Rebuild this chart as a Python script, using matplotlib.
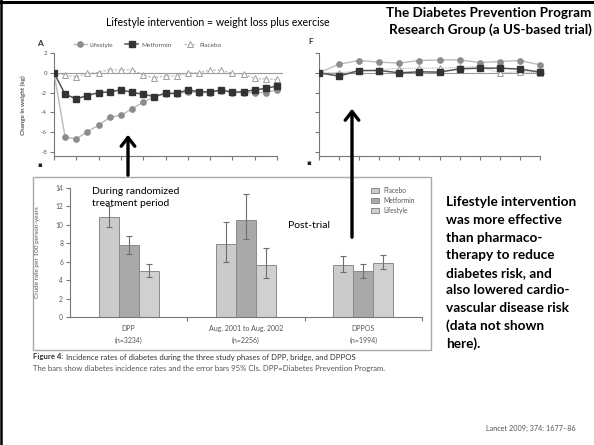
import matplotlib
matplotlib.use("Agg")
import matplotlib.pyplot as plt
from matplotlib.patches import Rectangle, FancyArrowPatch
from matplotlib.lines import Line2D

W, H = 594, 445
plt.rcParams['font.family'] = ['Lato', 'DejaVu Sans']
plt.rcParams['axes.unicode_minus'] = False

# ---- Panel A: change in weight (kg) over time since randomisation (years) ----
years_a = [0, 0.5, 1, 1.5, 2, 2.5, 3, 3.5, 4, 4.5, 5, 5.5, 6, 6.5, 7, 7.5, 8, 8.5, 9, 9.5, 10]
lifestyle_a = [0, -6.5, -6.67, -5.93, -5.3, -4.5, -4.3, -3.63, -2.97, -2.4, -2.1,
               -2.1, -1.9, -2.0, -2.0, -1.8, -2.0, -2.0, -2.0, -2.0, -1.7]
metformin_a = [0, -2.17, -2.63, -2.3, -2.0, -1.93, -1.73, -1.97, -2.17, -2.4, -2.07,
               -2.07, -1.73, -1.9, -1.93, -1.73, -1.97, -1.9, -1.73, -1.57, -1.33]
placebo_a = [0, -0.23, -0.4, -0.07, 0.03, 0.33, 0.27, 0.33, -0.23, -0.5, -0.3,
             -0.33, 0, 0, 0.27, 0.27, -0.07, -0.13, -0.57, -0.63, -0.67]
yticks_a = [-8, -6, -4, -2, 0, 2]
yticklabels_a = ['-8', '-6', '-4', '-2', '0', '2']

# ---- Panel F ----
years_f = [0, 1, 2, 3, 4, 5, 6, 7, 8, 9, 10, 11]
lifestyle_f = [0, 0.88, 1.24, 1.08, 0.98, 1.24, 1.3, 1.3, 1.04, 1.14, 1.24, 0.81]
metformin_f = [0, -0.33, 0.23, 0.23, 0.0, 0.1, 0.07, 0.4, 0.47, 0.47, 0.37, 0.07]
placebo_f = [0, 0.0, 0.17, 0.33, 0.43, 0.47, 0.47, 0.54, 0.64, -0.03, 0.13, -0.03]

# ---- Diabetes incidence by study phase (per 100 person-years, 95% CI) ----
phases = ['DPP\n(n=3234)', 'Aug. 2001 to Aug. 2002\n(n=2256)', 'DPPOS\n(n=1994)']
placebo_rate = [10.8, 7.9, 5.6]
placebo_lo = [9.8, 6.0, 4.85]
placebo_hi = [12.0, 10.3, 6.6]
metformin_rate = [7.8, 10.5, 5.0]
metformin_lo = [6.8, 8.5, 4.2]
metformin_hi = [8.8, 13.3, 5.8]
lifestyle_rate = [5.0, 5.6, 5.9]
lifestyle_lo = [4.3, 4.2, 5.2]
lifestyle_hi = [5.8, 7.5, 6.7]
rate_ticks = [0, 2, 4, 6, 8, 10, 12, 14]


def fx(px):
    return px / W


def fy(py):
    return 1 - py / H


def box(x0, y0, x1, y1):
    return [x0 / W, 1 - y1 / H, (x1 - x0) / W, (y1 - y0) / H]


fig = plt.figure(figsize=(W / 100, H / 100), dpi=100)
fig.patch.set_facecolor('white')

GRID = '#777777'
TXT = '#555555'


def style_axes(ax):
    for s in ('top', 'right'):
        ax.spines[s].set_visible(False)
    for s in ('left', 'bottom'):
        ax.spines[s].set_color(GRID)
        ax.spines[s].set_linewidth(0.8)
    ax.tick_params(colors=GRID, length=3, width=0.8, labelsize=4.5, labelcolor=TXT, pad=2)
    ax.set_facecolor('none')


def draw_series(ax, x, life, met, plac):
    ax.plot(x, plac, ls=(0, (2, 1.5)), color='#b0b0b0', lw=0.8, marker='^', ms=4.0,
            mfc='white', mec='#a0a0a0', mew=0.7, zorder=3, label='Placebo')
    ax.plot(x, life, color='#bbbbbb', lw=1.0, marker='o', ms=3.8,
            mfc='#8c8c8c', mec='#8c8c8c', zorder=4, label='Lifestyle')
    ax.plot(x, met, color='#555555', lw=1.1, marker='s', ms=4.0,
            mfc='#333333', mec='#333333', zorder=5, label='Metformin')


# Panel A
axA = fig.add_axes(box(54, 52.5, 282.6, 156))
style_axes(axA)
axA.set_xlim(0, 10.25)
axA.set_ylim(-8.4, 2.05)
axA.axhline(0, color='#999999', lw=0.8, zorder=1)
draw_series(axA, years_a, lifestyle_a, metformin_a, placebo_a)
axA.set_xticks(range(0, 11))
axA.set_xticklabels([])
axA.set_yticks(yticks_a)
axA.set_yticklabels(yticklabels_a)
axA.spines['bottom'].set_bounds(0, 10)
axA.spines['left'].set_bounds(-8.4, 2)
h, l = axA.get_legend_handles_labels()
order = [1, 2, 0]
axA.legend([h[i] for i in order], [l[i] for i in order], ncol=3, frameon=False,
           fontsize=4.6, labelcolor=TXT, handlelength=2.0, columnspacing=1.9,
           handletextpad=0.45, loc='center left',
           bbox_to_anchor=(fx(74), fy(45)), bbox_transform=fig.transFigure,
           borderpad=0, borderaxespad=0)
fig.text(fx(23), fy(105), 'Change in weight (kg)', rotation=90, fontsize=4.5,
         color=TXT, ha='center', va='center', fontweight='bold')
fig.text(fx(40), fy(43), 'A', fontsize=6, color='#333333', fontweight='bold',
         ha='center', va='center')
fig.text(fx(40), fy(165), '\u25aa', fontsize=5, color='#222222', ha='center', va='center',
         family='DejaVu Sans')

# Panel F
axF = fig.add_axes(box(319, 52.5, 545, 156))
style_axes(axF)
axF.set_xlim(0, 11.25)
axF.set_ylim(-8.4, 2.05)
axF.axhline(0, color='#999999', lw=0.8, zorder=1)
draw_series(axF, years_f, lifestyle_f, metformin_f, placebo_f)
axF.lines[1].set_linestyle((0, (1, 1)))
axF.set_xticks(years_f)
axF.set_xticklabels([])
axF.set_yticks(yticks_a)
axF.set_yticklabels([])
axF.spines['bottom'].set_bounds(0, 11)
axF.spines['left'].set_bounds(-8.4, 2)
fig.text(fx(311), fy(42), 'F', fontsize=6, color='#333333', fontweight='bold',
         ha='center', va='center')
fig.text(fx(309), fy(163), '\u25aa', fontsize=5, color='#222222', ha='center', va='center',
         family='DejaVu Sans')

# Bar chart panel with frame
fig.add_artist(Rectangle((fx(33), fy(350)), (431 - 33) / W, (350 - 177) / H,
                         transform=fig.transFigure, facecolor='white',
                         edgecolor='#a8a8a8', lw=1.0, zorder=0))
axB = fig.add_axes(box(70, 188, 422, 317))
style_axes(axB)
axB.set_xlim(0, 3)
axB.set_ylim(0, 14)
bw = 0.17
centers = [i + 0.5 for i in range(len(phases))]
series = [
    ('Placebo', placebo_rate, placebo_lo, placebo_hi, '#cbcbcb', -bw),
    ('Metformin', metformin_rate, metformin_lo, metformin_hi, '#a9a9a9', 0),
    ('Lifestyle', lifestyle_rate, lifestyle_lo, lifestyle_hi, '#d0d0d0', bw),
]
for name, rate, lo, hi, col, off in series:
    xs = [c + off for c in centers]
    axB.bar(xs, rate, width=bw, color=col, edgecolor='#8a8a8a', lw=0.7, label=name, zorder=2)
    err = [[r - a for r, a in zip(rate, lo)], [b - r for r, b in zip(rate, hi)]]
    axB.errorbar(xs, rate, yerr=err, fmt='none', ecolor='#6e6e6e', elinewidth=0.8,
                 capsize=2.5, capthick=0.8, zorder=3)
axB.set_yticks(rate_ticks)
axB.tick_params(axis='y', labelsize=4.8)
axB.set_xticks([1, 2, 3])
axB.set_xticklabels([])
axB.set_xticks(centers, minor=True)
axB.set_xticklabels(phases, minor=True, fontsize=5, color=TXT, linespacing=1.7)
axB.tick_params(axis='x', which='minor', length=0, pad=6)
axB.legend(loc='upper left', bbox_to_anchor=(fx(371), fy(187)), bbox_transform=fig.transFigure,
           frameon=False, fontsize=4.8, labelcolor=TXT, handlelength=1.2, handleheight=0.8,
           handletextpad=0.7, labelspacing=0.45, borderpad=0, borderaxespad=0)
fig.text(fx(38), fy(252), 'Crude rate per 100 person-years', rotation=90, fontsize=4.6,
         color=TXT, ha='center', va='center')

# Figure caption: bold lead-in followed by the regular text
fig.canvas.draw()
renderer = fig.canvas.get_renderer()
lead = fig.text(fx(33), fy(357), 'Figure 4:', fontsize=5.6, fontweight='bold',
                color='#333333', ha='left', va='center')
lead_w = lead.get_window_extent(renderer).width
fig.text(fx(33 + lead_w + 2.5), fy(357),
         'Incidence rates of diabetes during the three study phases of DPP, bridge, and DPPOS',
         fontsize=5.6, color='#333333', ha='left', va='center')
fig.text(fx(33), fy(369), 'The bars show diabetes incidence rates and the error bars 95% CIs. DPP=Diabetes Prevention Program.',
         fontsize=5.6, color='#555555', ha='left', va='center')
fig.text(fx(576), fy(428), 'Lancet 2009; 374: 1677\u201386', fontsize=5.2, color='#555555',
         ha='right', va='center')

# Slide annotations
fig.text(fx(218), fy(23), 'Lifestyle intervention = weight loss plus exercise', fontsize=7.6,
         color='black', ha='center', va='center')
fig.text(fx(591), fy(13), 'The Diabetes Prevention Program', fontsize=9.7, fontweight='bold',
         color='black', ha='right', va='center')
fig.text(fx(592), fy(30), 'Research Group (a US-based trial)', fontsize=9.7, fontweight='bold',
         color='black', ha='right', va='center')
fig.text(fx(92), fy(191), 'During randomized', fontsize=7.5, color='black', ha='left', va='center')
fig.text(fx(92), fy(204), 'treatment period', fontsize=7.5, color='black', ha='left', va='center')
fig.text(fx(288), fy(225), 'Post-trial', fontsize=7.5, color='black', ha='left', va='center')

side_lines = ['Lifestyle intervention', 'was more effective', 'than pharmaco-',
              'therapy to reduce', 'diabetes risk, and', 'also lowered cardio-',
              'vascular disease risk', '(data not shown', 'here).']
for i, s in enumerate(side_lines):
    fig.text(fx(446), fy(202.5 + i * 17.6), s, fontsize=9.8, fontweight='bold',
             color='black', ha='left', va='center')

# Arrows
for (x, y0, y1) in [(128, 178, 132), (352, 240, 106)]:
    fig.add_artist(FancyArrowPatch((fx(x), fy(y0)), (fx(x), fy(y1)),
                                   transform=fig.transFigure,
                                   arrowstyle='->,head_length=0.45,head_width=0.35',
                                   mutation_scale=14, lw=2.4, color='black', zorder=10))

# Slide frame (top and left edges)
fig.add_artist(Line2D([0, 1], [fy(1.5), fy(1.5)], transform=fig.transFigure,
                      color='black', lw=2.2))
fig.add_artist(Line2D([fx(1.2), fx(1.2)], [0, 1], transform=fig.transFigure,
                      color='black', lw=1.8))

fig.savefig('out.png', dpi=100)
